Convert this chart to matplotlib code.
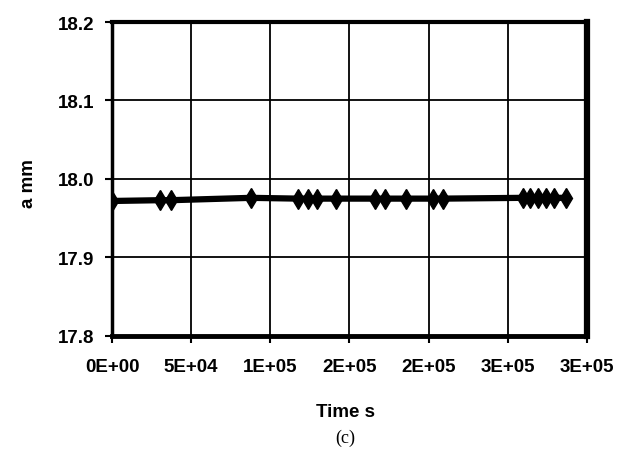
import matplotlib
matplotlib.use("Agg")
import matplotlib.pyplot as plt

# data (c)
time_s = [0, 30300, 37300, 87800, 117500, 123800, 129500, 141500,
          166100, 172700, 185700, 202700, 209000,
          259600, 264000, 269000, 274100, 279200, 286700]
a_mm = [17.972, 17.973, 17.973, 17.976, 17.975, 17.975, 17.975, 17.975,
        17.975, 17.975, 17.975, 17.975, 17.975,
        17.976, 17.976, 17.976, 17.976, 17.976, 17.976]

x_ticks = [0, 50000, 100000, 150000, 200000, 250000, 300000]
x_labels = ["0E+00", "5E+04", "1E+05", "2E+05", "2E+05", "3E+05", "3E+05"]
y_ticks = [17.8, 17.9, 18.0, 18.1, 18.2]
y_labels = ["17.8", "17.9", "18.0", "18.1", "18.2"]

plt.rcParams["font.family"] = ["Liberation Sans", "DejaVu Sans"]

fig = plt.figure(figsize=(6.3, 4.6), dpi=100)
ax = fig.add_axes([0.1778, 0.2674, 0.7539, 0.6826])

ax.plot(time_s, a_mm, color="black", lw=4.5, marker="d", ms=10.5,
        markerfacecolor="black", markeredgecolor="black", zorder=3)

ax.set_xlim(0, 300000)
ax.set_ylim(17.8, 18.2)
ax.set_xticks(x_ticks)
ax.set_xticklabels(x_labels, fontsize=13.5, fontweight="bold")
ax.set_yticks(y_ticks)
ax.set_yticklabels(y_labels, fontsize=13.5, fontweight="bold")
ax.tick_params(axis="x", direction="out", length=5, width=1.5, pad=11)
ax.tick_params(axis="y", direction="out", length=5, width=1.5, pad=8)

ax.grid(True, color="black", lw=1.3)
ax.set_axisbelow(True)

for side, w in [("left", 2.5), ("bottom", 3.5), ("top", 3.0), ("right", 4.5)]:
    ax.spines[side].set_linewidth(w)
    ax.spines[side].set_color("black")

fig.text(0.045, 0.60, "a mm", rotation=90, ha="center", va="center",
         fontsize=13.5, fontweight="bold")
fig.text(0.548, 0.103, "Time s", ha="center", va="center",
         fontsize=13.5, fontweight="bold")
fig.text(0.548, 0.048, "(c)", ha="center", va="center",
         fontsize=13, family=["Liberation Serif", "DejaVu Serif"])

fig.savefig("out.png", dpi=100)
